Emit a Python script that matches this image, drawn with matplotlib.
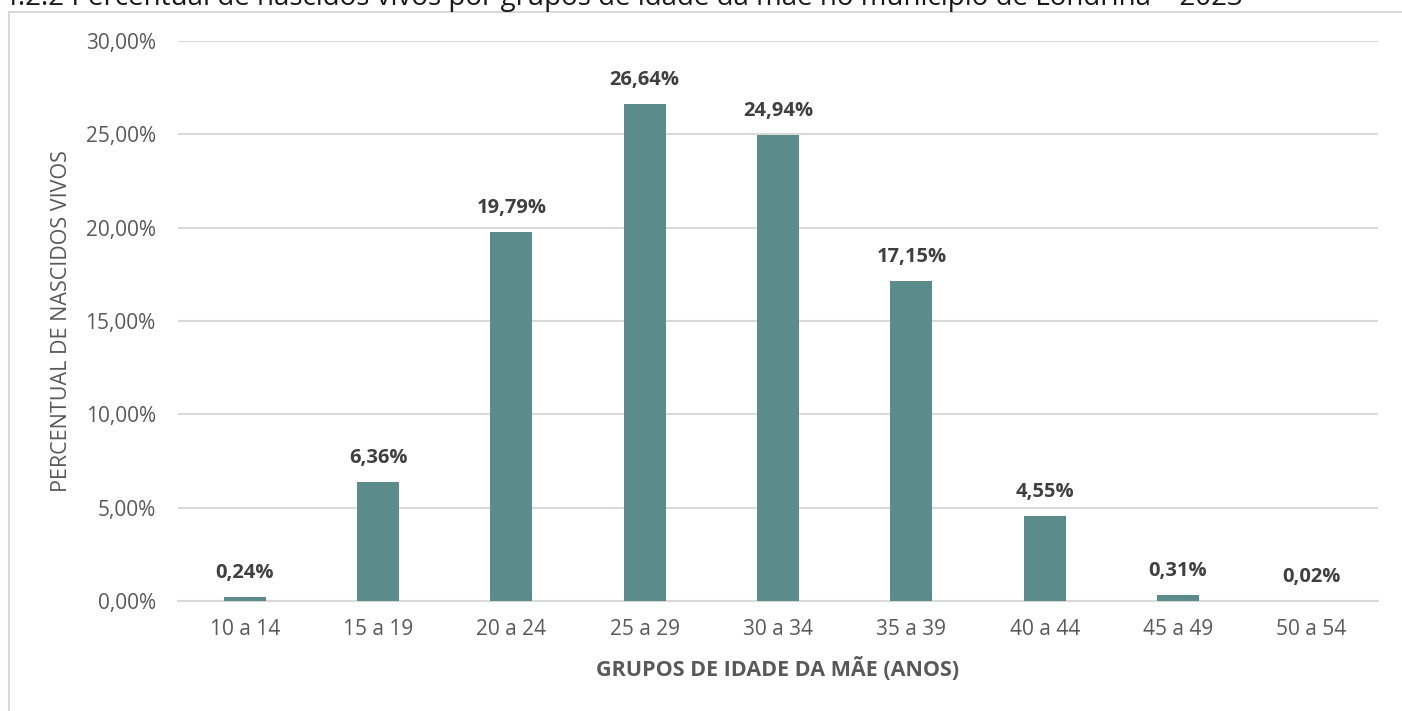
import matplotlib.pyplot as plt
from matplotlib.patches import Rectangle
from matplotlib.ticker import FuncFormatter

# faixas etarias da mae e percentual de nascidos vivos
grupos = ['10 a 14', '15 a 19', '20 a 24', '25 a 29', '30 a 34',
          '35 a 39', '40 a 44', '45 a 49', '50 a 54']
percentual = [0.24, 6.36, 19.79, 26.64, 24.94, 17.15, 4.55, 0.31, 0.02]
titulo = '4.2.2 Percentual de nascidos vivos por grupos de idade da mãe no município de Londrina – 2023'

plt.rcParams['font.family'] = ['Open Sans', 'DejaVu Sans']

fig = plt.figure(figsize=(14.02, 7.11), dpi=100)
ax = fig.add_axes([178/1402, 1 - 601/711, 1200/1402, 560/711])

# moldura do grafico (cortada a direita e em baixo)
fig.patches.append(Rectangle((9/1402, -0.1), 1.2, 1 - 12/711 + 0.1,
                             transform=fig.transFigure, fill=False,
                             edgecolor='#D9D9D9', linewidth=1.5))
fig.text(2/1402, 1 - 5/711, titulo, fontsize=20, color='#1a1a1a',
         va='baseline', ha='left')

x = range(len(grupos))
bars = ax.bar(x, percentual, width=0.315, color='#5B8B8B', zorder=3)
for xi, v in zip(x, percentual):
    ax.text(xi, v + 0.75, f'{v:.2f}%'.replace('.', ','), ha='center', va='bottom',
            fontsize=14.5, fontweight='bold', color='#404040')

ax.set_xlim(-0.5, len(grupos) - 0.5)
ax.set_ylim(0, 30)
ax.set_yticks([0, 5, 10, 15, 20, 25, 30])
ax.yaxis.set_major_formatter(FuncFormatter(lambda v, p: f'{v:.2f}%'.replace('.', ',')))
ax.set_xticks(list(x))
ax.set_xticklabels(grupos)
ax.grid(axis='y', color='#D9D9D9', linewidth=1.5, zorder=0)
for s in ['top', 'right', 'left']:
    ax.spines[s].set_visible(False)
ax.spines['bottom'].set_color('#D9D9D9')
ax.spines['bottom'].set_linewidth(1.5)
ax.tick_params(axis='both', length=0, labelsize=15, colors='#595959')
ax.tick_params(axis='x', pad=13)
ax.tick_params(axis='y', pad=16)

ax.set_ylabel('PERCENTUAL DE NASCIDOS VIVOS', fontsize=15.5, color='#595959', labelpad=10)
ax.set_xlabel('GRUPOS DE IDADE DA MÃE (ANOS)', fontsize=15.5, fontweight='bold',
              color='#595959', labelpad=12)

fig.savefig('out.png', dpi=100)
